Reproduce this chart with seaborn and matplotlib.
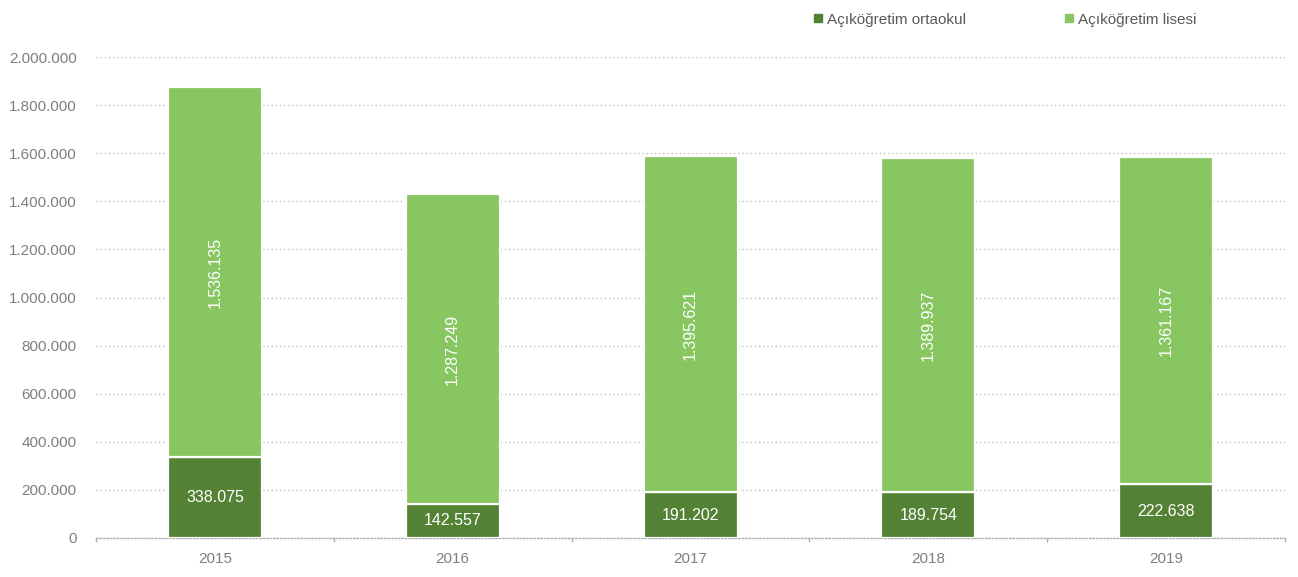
import matplotlib
matplotlib.use("Agg")
import matplotlib.pyplot as plt
from matplotlib.ticker import FuncFormatter, FixedLocator
from matplotlib.lines import Line2D
import seaborn as sns
import pandas as pd

years = ["2015", "2016", "2017", "2018", "2019"]
ortaokul = [338075, 142557, 191202, 189754, 222638]
lisesi = [1536135, 1287249, 1395621, 1389937, 1361167]
series_names = ["Açıköğretim ortaokul", "Açıköğretim lisesi"]

DARK = "#548235"
LIGHT = "#88c662"
GREY = "#7f7f7f"

sns.set_theme(style="white")
plt.rcParams["font.family"] = ["Liberation Sans", "DejaVu Sans"]
fs = 11

df = pd.DataFrame({"year": years, "ortaokul": ortaokul, "lisesi": lisesi})

fig = plt.figure(figsize=(12.98, 5.77), dpi=100)
ax = fig.add_axes([0.074, 0.0676, 0.916, 0.8334])

bar_kw = dict(width=0.395, edgecolor="white", linewidth=1.6, zorder=3)
sns.barplot(data=df, x="year", y="ortaokul", color=DARK, ax=ax,
            saturation=1, **bar_kw)
sns.barplot(data=df, x="year", y="lisesi", bottom=df["ortaokul"], color=LIGHT,
            ax=ax, saturation=1, **bar_kw)


def tr_fmt(v):
    return f"{int(round(v)):,}".replace(",", ".")


for i, (a, b) in enumerate(zip(ortaokul, lisesi)):
    ax.text(i, a / 2, tr_fmt(a), ha="center", va="center", color="white",
            fontsize=11.5, zorder=4)
    ax.text(i, a + b / 2, tr_fmt(b), ha="center", va="center", color="white",
            fontsize=11.5, rotation=90, zorder=4)

ax.set_ylim(0, 2000000)
ax.set_xlim(-0.5, len(years) - 0.5)
ax.set_yticks(range(0, 2000001, 200000))
ax.yaxis.set_major_formatter(FuncFormatter(lambda v, p: tr_fmt(v)))
ax.grid(axis="y", color="#bfbfbf", linestyle=(0, (1, 2)), linewidth=1, zorder=0)
ax.grid(axis="x", visible=False)

for s in ["top", "right", "left"]:
    ax.spines[s].set_visible(False)
ax.spines["bottom"].set_color("#b0b0b0")
ax.spines["bottom"].set_linestyle((0, (1, 1.5)))
ax.spines["bottom"].set_linewidth(1)

ax.set_xlabel("")
ax.set_ylabel("")
ax.tick_params(axis="y", length=0, pad=14, labelsize=fs, labelcolor=GREY)
ax.tick_params(axis="x", which="major", length=0, pad=10, labelsize=fs,
               labelcolor=GREY)
ax.xaxis.set_minor_locator(FixedLocator([i - 0.5 for i in range(len(years) + 1)]))
ax.tick_params(axis="x", which="minor", length=3, width=1, color="#b0b0b0",
               bottom=True)

handles = [Line2D([], [], marker="s", linestyle="none", markersize=6,
                  markerfacecolor=c, markeredgecolor=c)
           for c in (DARK, LIGHT)]
fig.legend(handles, series_names, loc="center left",
           bbox_to_anchor=(0.622, 0.966), ncol=2, frameon=False,
           fontsize=fs, labelcolor="#595959", handlelength=0.6,
           handletextpad=0.3, columnspacing=6.4, borderaxespad=0)

fig.savefig("out.png", dpi=100)
